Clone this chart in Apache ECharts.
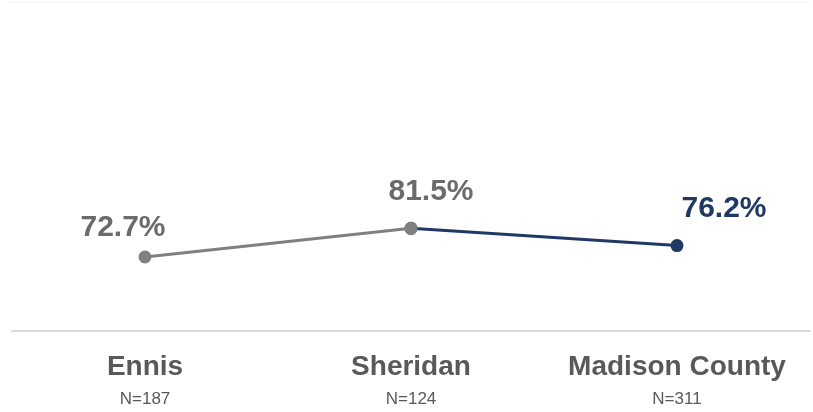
<!DOCTYPE html>
<html>
<head>
<meta charset="utf-8">
<script src="https://cdn.jsdelivr.net/npm/echarts@6/dist/echarts.min.js"></script>
<style>
  html, body { margin: 0; padding: 0; background: #fff; }
  #chart { width: 813px; height: 412px; }
</style>
</head>
<body>
<div id="chart"></div>
<script>
const categories = ['Ennis', 'Sheridan', 'Madison County']
const sampleSizes = [187, 124, 311]
const values = [72.7, 81.5, 76.2]

const gray = '#808080'
const navy = '#1f3864'
const font = 'Liberation Sans, Arial, sans-serif'

const chart = echarts.init(document.getElementById('chart'))

// label offsets (dx, dy) relative to each point
const labelShift = [[-22, -29], [20, -37], [47, -37]]

const pointLabel = (i, color) => ({
  show: true,
  position: 'inside',
  offset: labelShift[i],
  formatter: (p) => p.value.toFixed(1) + '%',
  fontFamily: font,
  fontSize: 30,
  fontWeight: 'bold',
  color: color
})

// gray segment: Ennis -> Sheridan, navy segment: Sheridan -> Madison County
const grayData = values.map((v, i) => i < 2 ? { value: v, label: pointLabel(i, '#6b6b6b') } : '-')
const navyData = values.map((v, i) => i === 2 ? { value: v, label: pointLabel(i, navy) } : (i === 1 ? { value: v, label: { show: false } } : '-'))

chart.setOption({
  animation: false,
  grid: { left: 12, right: 3, top: 168, bottom: 81 },
  xAxis: {
    type: 'category',
    data: categories,
    boundaryGap: true,
    axisLine: { lineStyle: { color: '#d9d9d9', width: 2 } },
    axisTick: { show: false },
    axisLabel: {
      margin: 19,
      formatter: (val, idx) => `{name|${val}}\n{n|N=${sampleSizes[idx]}}`,
      rich: {
        name: { fontFamily: font, fontSize: 28, fontWeight: 'bold', color: '#595959', lineHeight: 34 },
        n: { fontFamily: font, fontSize: 17, color: '#595959', lineHeight: 31 }
      }
    }
  },
  yAxis: {
    type: 'value',
    min: 50,
    max: 100,
    show: false
  },
  graphic: [{
    type: 'line',
    shape: { x1: 8, y1: 2, x2: 810, y2: 2 },
    style: { stroke: '#f2f2f2', lineWidth: 1 }
  }],
  series: [
    {
      type: 'line',
      data: navyData,
      symbol: 'circle',
      symbolSize: 13,
      lineStyle: { color: navy, width: 3 },
      itemStyle: { color: navy },
      z: 2
    },
    {
      type: 'line',
      data: grayData,
      symbol: 'circle',
      symbolSize: 13,
      lineStyle: { color: gray, width: 3 },
      itemStyle: { color: gray },
      z: 3
    }
  ]
})

window.addEventListener('resize', () => chart.resize())
</script>
</body>
</html>
